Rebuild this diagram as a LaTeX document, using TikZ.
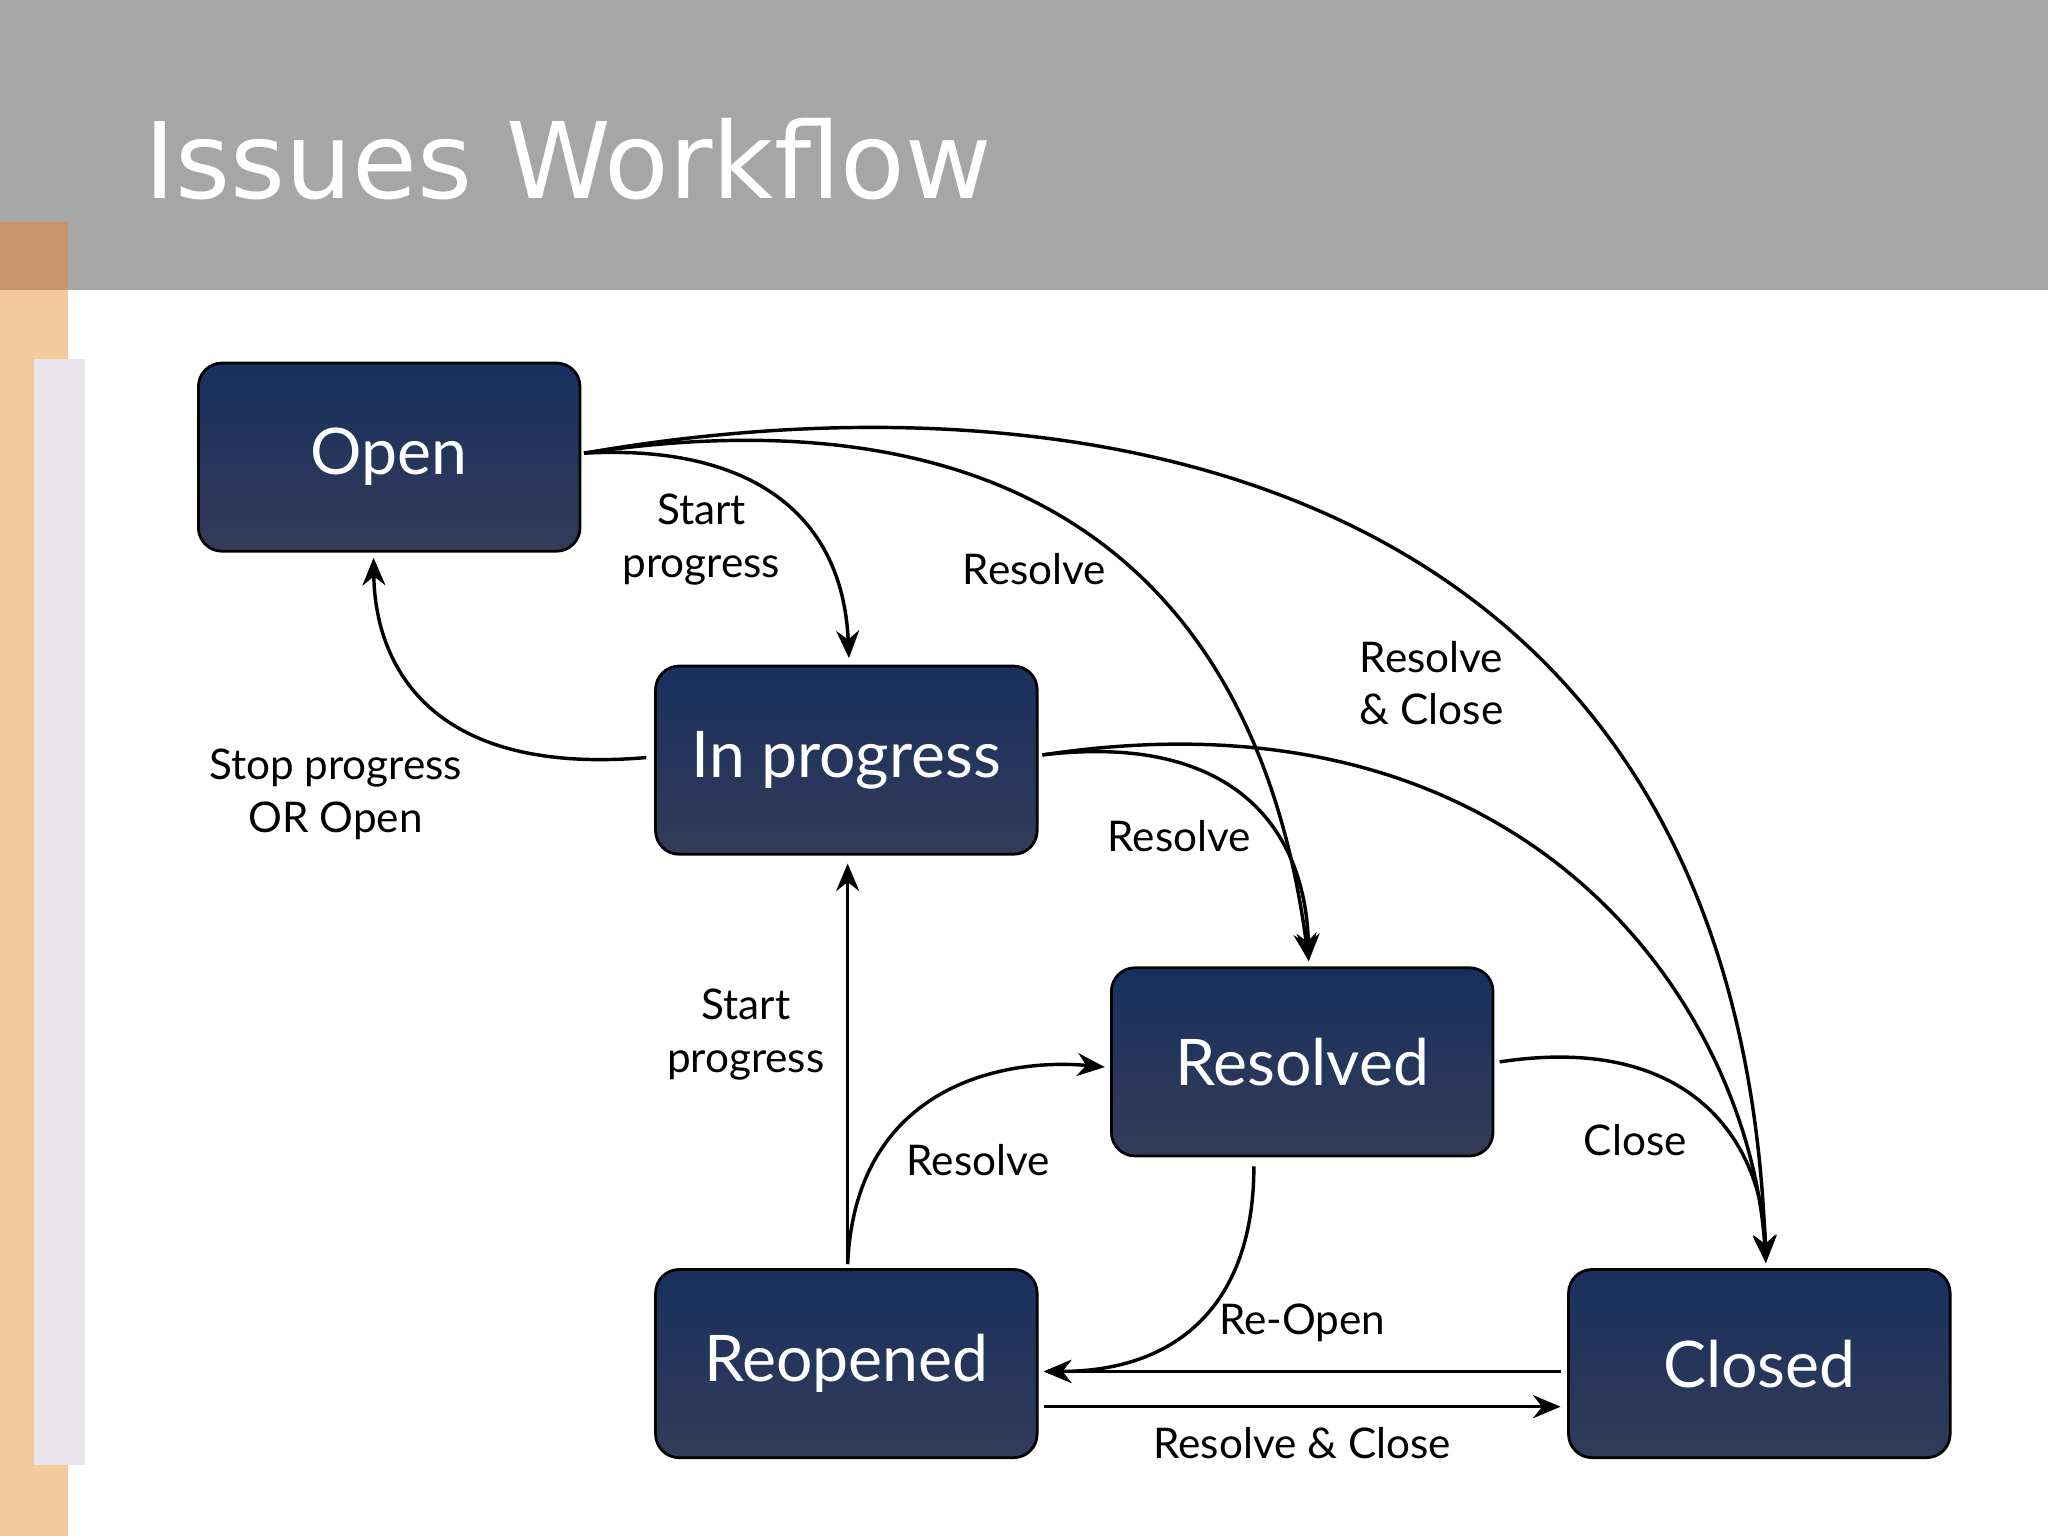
\documentclass[tikz,border=0pt]{standalone}
\usepackage{fontspec}
\setmainfont{Lato}
\newfontfamily\titlefont{DejaVu Sans}
\usetikzlibrary{arrows.meta,calc}
\definecolor{hdr}{HTML}{A6A6A6}
\definecolor{orng}{HTML}{F5C9A0}
\definecolor{orngd}{HTML}{C8956A}
\definecolor{strip}{HTML}{E8E6EA}
\definecolor{ntop}{HTML}{18305F}
\definecolor{nbot}{HTML}{333B58}
\begin{document}
\begin{tikzpicture}[x=0.01cm,y=-0.01cm,
  st/.style={draw=black,line width=0.6pt,rounded corners=0.18cm,top color=ntop,bottom color=nbot,
    minimum width=2.92cm,minimum height=1.44cm,text=white,font=\fontsize{14}{16}\selectfont},
  ar/.style={line width=0.75pt,-{Stealth[length=6pt,width=5pt]}},
  lb/.style={font=\fontsize{9.2}{11.5}\selectfont,align=center,inner sep=0pt}]
\useasboundingbox (0,0) rectangle (1568,1176);
\fill[white] (0,0) rectangle (1568,1176);
\fill[hdr] (0,0) rectangle (1568,222);
\fill[orng] (0,222) rectangle (52,1176);
\fill[orngd] (0,170) rectangle (52,222);
\fill[strip] (26,275) rectangle (65,1122);
\node[anchor=base west,text=white,inner sep=0pt,font=\titlefont\fontsize{23}{26}\selectfont] (title) at (110,152) {Issues Workflow};
\node[st] (open) at (298,350) {Open};
\node[st] (ip) at (648,582) {In progress};
\node[st] (res) at (997,813) {Resolved};
\node[st] (reo) at (648,1044) {Reopened};
\node[st] (clo) at (1347,1044) {Closed};
\coordinate (oe) at ($(open.east)+(2,-3)$);
\coordinate (ie) at ($(ip.east)+(3,-4)$);
\coordinate (rn) at ($(res.north)+(5,-4)$);
\coordinate (cn) at ($(clo.north)+(5,-4)$);
\draw[ar] (oe) .. controls (570,340) and (645,390) .. ($(ip.north)+(2,-5)$);
\draw[ar] (oe) .. controls (760,300) and (960,420) .. (rn);
\draw[ar] (oe) .. controls (830,280) and (1330,360) .. (cn);
\draw[ar] ($(ip.west)+(-6,-2)$) .. controls (320,595) and (287,500) .. ($(open.south)+(-12,4)$);
\draw[ar] (ie) .. controls (950,560) and (1000,640) .. (rn);
\draw[ar] (ie) .. controls (1180,520) and (1340,780) .. (cn);
\draw[ar] ($(reo.north)+(1,-3)$) -- ($(ip.south)+(1,6)$);
\draw[ar] ($(reo.north)+(1,-3)$) .. controls (655,830) and (770,810) .. ($(res.west)+(-4,4)$);
\draw[ar] ($(res.east)+(4,0)$) .. controls (1300,790) and (1350,880) .. (cn);
\draw[ar] ($(res.south)+(-37,7)$) .. controls (960,1000) and (900,1050) .. ($(reo.east)+(4,6)$);
\draw[ar] ($(clo.west)+(-5,6)$) -- ($(reo.east)+(4,6)$);
\draw[ar] ($(reo.east)+(4,33)$) -- ($(clo.west)+(-5,33)$);
\node[lb] (l1) at (537,413) {Start\\progress};
\node[lb] (l2) at (792,436) {Resolve};
\node[lb] (l3) at (1096,523) {Resolve\\\& Close};
\node[lb] (l4) at (257,608) {Stop progress\\OR Open};
\node[lb] (l5) at (903,640) {Resolve};
\node[lb] (l6) at (571,792) {Start\\progress};
\node[lb] (l7) at (749,888) {Resolve};
\node[lb] (l8) at (1252,873) {Close};
\node[lb] (l9) at (997,1013) {Re-Open};
\node[lb] (l10) at (997,1105) {Resolve \& Close};
\end{tikzpicture}
\end{document}
